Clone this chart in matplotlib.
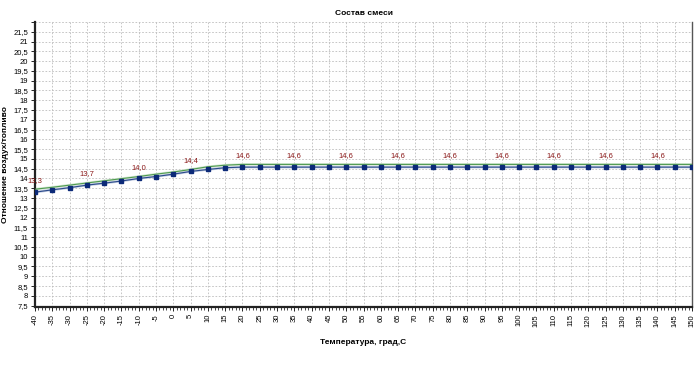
import numpy as np
import matplotlib.pyplot as plt
from matplotlib.ticker import MultipleLocator, FuncFormatter

plt.rcParams["font.family"] = ["Liberation Sans", "DejaVu Sans"]

temps = list(range(-40, 151, 5))
ratio = [13.3, 13.42, 13.53, 13.66, 13.76, 13.87, 14.0, 14.1, 14.22, 14.36, 14.46, 14.55] + [14.58] * 27
trend = [13.45, 13.55, 13.66, 13.77, 13.88, 13.99, 14.1, 14.22, 14.33, 14.46, 14.6, 14.68] + [14.72] * 27
label_temps = [-40, -25, -10, 5, 20, 35, 50, 65, 80, 95, 110, 125, 140]


def comma(v, pos=None):
    return f"{v:g}".replace(".", ",")


def comma_y(v, pos=None):
    # top gridline at 22 has no label in the original
    if v > 21.9:
        return ""
    return comma(v)


fig = plt.figure(figsize=(7, 3.73), dpi=100)
ax = fig.add_axes([0.05, 0.177, 0.9386, 0.764])

ax.plot(temps, trend, color="#d4e8d4", lw=1.8, zorder=2)
ax.plot(temps, trend, color="#4f9a4f", lw=0.8, zorder=3)
ax.plot(temps, ratio, color="#c4cde2", lw=1.8, zorder=2)
ax.plot(temps, ratio, color="#2a4a8a", lw=0.8, marker="s", markersize=3.5,
        markerfacecolor="#0c2a78", markeredgecolor="#0c2a78", zorder=4)

for t, v in zip(temps, ratio):
    if t in label_temps:
        ax.annotate(f"{v:.1f}".replace(".", ","), (t, v), xytext=(0, 5.5),
                    textcoords="offset points", ha="center", va="bottom",
                    fontsize=5.5, color="#8b1a1a", zorder=5)

ax.set_xlim(-40, 150)
ax.set_ylim(7.43, 22)
ax.xaxis.set_major_locator(MultipleLocator(5))
ax.xaxis.set_minor_locator(MultipleLocator(1))
ax.yaxis.set_major_locator(MultipleLocator(0.5))
ax.xaxis.set_major_formatter(FuncFormatter(comma))
ax.yaxis.set_major_formatter(FuncFormatter(comma_y))

ax.grid(True, which="major", color="#bdbdbd", linestyle=(0, (2, 2)), lw=0.6)
ax.tick_params(axis="x", which="major", labelsize=5.5, labelrotation=90, length=3, width=0.6, pad=2)
ax.tick_params(axis="x", which="minor", length=2, width=0.5)
ax.tick_params(axis="y", labelsize=5.5, length=3, width=0.6, pad=2)

for side in ("left", "bottom"):
    ax.spines[side].set_linewidth(1.6)
    ax.spines[side].set_color("#222222")
ax.spines["right"].set_color("#555555")
ax.spines["right"].set_linewidth(1.0)
ax.spines["top"].set_visible(False)

ax.set_title("Состав смеси", fontsize=6, fontweight="bold", pad=5)
ax.set_xlabel("Температура, град,С", fontsize=6, fontweight="bold", labelpad=9)
ax.set_ylabel("Отношение воздух/топливо", fontsize=6, fontweight="bold", labelpad=3)

fig.savefig("out.png", dpi=100)
